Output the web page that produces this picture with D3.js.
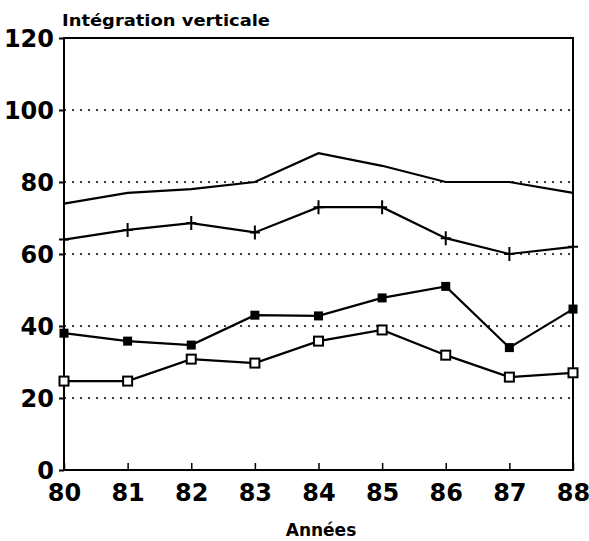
<!DOCTYPE html>
<html><head><meta charset="utf-8">
<script src="https://cdn.jsdelivr.net/npm/d3@7"></script>
<style>body{margin:0;background:#fff}svg{display:block}text{font-family:"DejaVu Sans",sans-serif;font-weight:bold;fill:#000}</style>
</head><body><svg id="c" width="589" height="541"></svg>
<script>
const years = [80,81,82,83,84,85,86,87,88];
const yTicks = [0,20,40,60,80,100,120];
const serieHaute = [74,77,78,80,88,84.5,80,80,77];
const serieCroix = [64,66.7,68.6,66,73,73,64.4,60,62];
const serieEtoile = [38,35.8,34.7,43,42.8,47.8,51,34,44.7];
const serieCarre = [24.7,24.7,30.8,29.7,35.8,38.9,31.9,25.8,27];
const titre = "Intégration verticale";
const axeX = "Années";

const svg = d3.select("#c");
const L=64,R=573,T=38,B=470;
const x = d3.scaleLinear().domain([80,88]).range([L,R]);
const y = d3.scaleLinear().domain([0,120]).range([B,T]);

// grid
svg.append("g").selectAll("line").data(yTicks.filter(v=>v>0&&v<120)).join("line")
  .attr("x1",L).attr("x2",R).attr("y1",d=>y(d)).attr("y2",d=>y(d))
  .attr("stroke","#000").attr("stroke-width",1.6).attr("stroke-dasharray","2,6");

// frame
svg.append("rect").attr("x",L).attr("y",T).attr("width",R-L).attr("height",B-T)
  .attr("fill","none").attr("stroke","#000").attr("stroke-width",2);

// y axis
const ya = svg.append("g").attr("transform",`translate(${L},0)`)
  .call(d3.axisLeft(y).tickValues(yTicks).tickSize(5).tickPadding(5).tickFormat(d3.format("d")));
ya.select(".domain").remove();
ya.selectAll("line").attr("stroke-width",2);
ya.selectAll("text").style("font-size","24px").attr("dy","0.36em");

// x axis
const xa = svg.append("g").attr("transform",`translate(0,${B})`)
  .call(d3.axisBottom(x).tickValues(years).tickSize(-7).tickPadding(14).tickFormat(d3.format("d")));
xa.select(".domain").remove();
xa.selectAll("line").attr("stroke-width",1.5);
xa.selectAll("text").style("font-size","24px").attr("dy","0.71em");

svg.append("text").attr("x",L-2).attr("y",26).style("font-size","16px")
  .attr("textLength",208).attr("lengthAdjust","spacingAndGlyphs").text(titre);
svg.append("text").attr("x",321).attr("y",536).attr("text-anchor","middle").style("font-size","17px").text(axeX);

const line = d3.line().x((d,i)=>x(years[i])).y(d=>y(d));
const series=[serieHaute,serieCroix,serieEtoile,serieCarre];
series.forEach(s=>svg.append("path").datum(s).attr("d",line).attr("fill","none").attr("stroke","#000").attr("stroke-width",2.2));

// markers
svg.append("g").selectAll("path").data(serieCroix).join("path")
  .attr("d",(d,i)=>{const cx=x(years[i]),cy=y(d);return `M${cx-5},${cy}H${cx+5}M${cx},${cy-7}V${cy+7}`;})
  .attr("stroke","#000").attr("stroke-width",2);
svg.append("g").selectAll("rect").data(serieEtoile).join("rect")
  .attr("x",(d,i)=>x(years[i])-4.5).attr("y",d=>y(d)-4.5).attr("width",9).attr("height",9).attr("fill","#000");
svg.append("g").selectAll("rect").data(serieCarre).join("rect")
  .attr("x",(d,i)=>x(years[i])-4.5).attr("y",d=>y(d)-4.5).attr("width",9).attr("height",9)
  .attr("fill","#fff").attr("stroke","#000").attr("stroke-width",2);
</script></body></html>
